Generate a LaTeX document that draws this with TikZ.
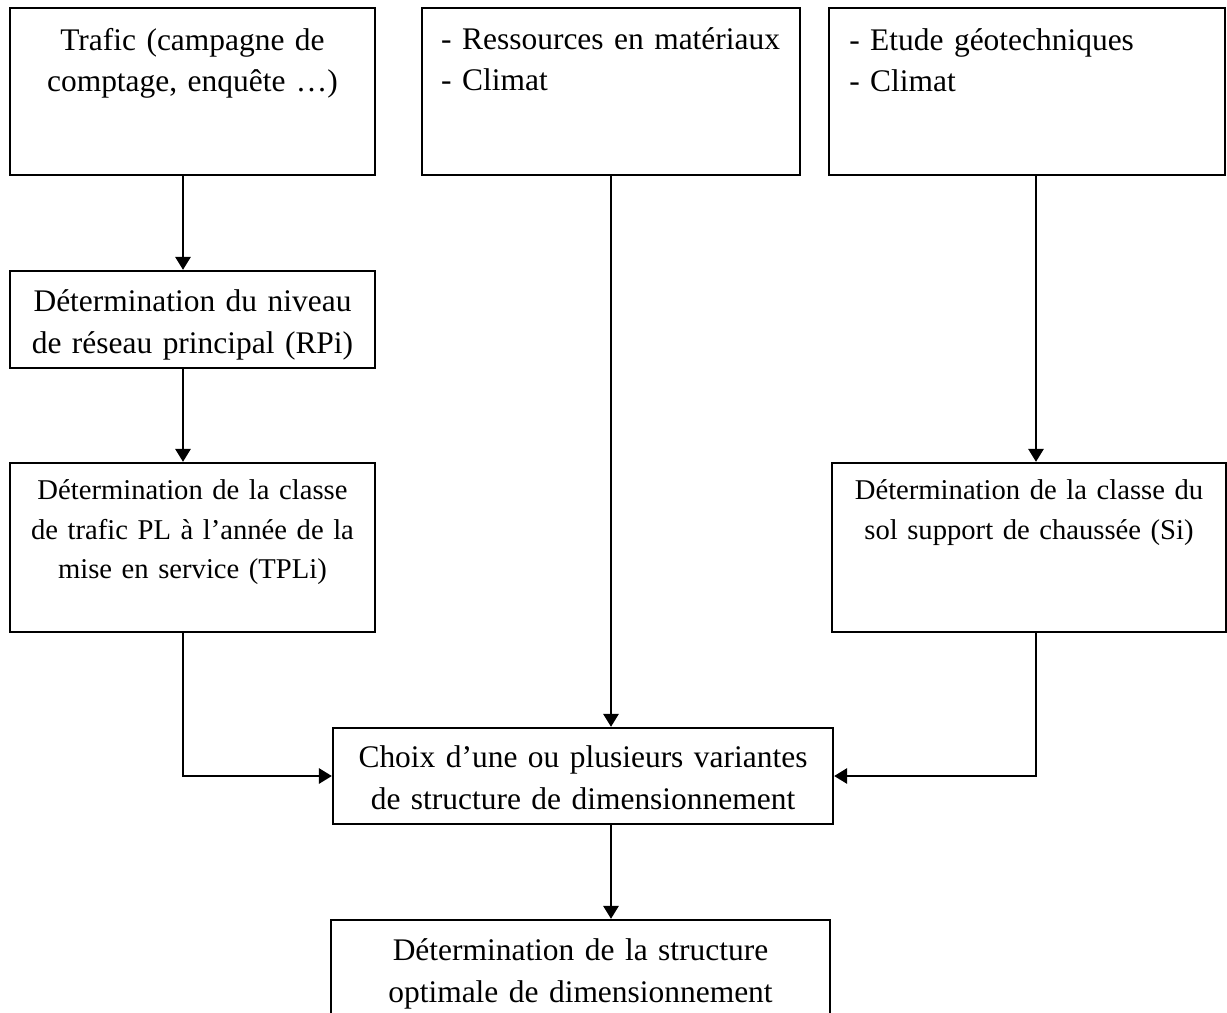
\documentclass[tikz,border=0pt]{standalone}
\usepackage{fontspec}
\setmainfont{Liberation Serif}
\usetikzlibrary{positioning,arrows.meta}
\newcommand{\grandtxt}{\fontsize{17.9}{23.6}\selectfont}
\newcommand{\petittxt}{\fontsize{16.3}{22.5}\selectfont}

\begin{document}
\begin{tikzpicture}[x=0.02cm, y=-0.02cm,
		boite/.style={draw, line width=1.3pt, inner sep=0pt},
		texte/.style={inner sep=0pt, text height=0pt, align=center, font=\grandtxt},
		fleche/.style={line width=1.6pt, -{Triangle[length=0.26cm, width=0.3cm]}}]
		\useasboundingbox (0,0) rectangle (1227,1012);
		\clip (0,0) rectangle (1227,1012);
		\node[boite, minimum width=7.3cm, minimum height=3.34cm] (trafic) at (192.5,91.5) {};
		\node[boite, minimum width=7.56cm, minimum height=3.34cm] (ressources) at (611,91.5) {};
		\node[boite, minimum width=7.92cm, minimum height=3.34cm] (etude) at (1027,91.5) {};
		\node[boite, minimum width=7.3cm, minimum height=1.94cm] (niveau) at (192.5,319.5) {};
		\node[boite, minimum width=7.3cm, minimum height=3.38cm] (classePL) at (192.5,547.5) {};
		\node[boite, minimum width=7.88cm, minimum height=3.38cm] (classeSol) at (1029,547.5) {};
		\node[boite, minimum width=10cm, minimum height=1.92cm] (choix) at (583,776) {};
		\node[boite, minimum width=9.98cm, minimum height=2.6cm] (optimale) at (580.5,985) {};
		\node[texte, text width=7.3cm, below=0.86cm of trafic.north] (traficTxt) {Trafic (campagne de\\comptage, enquête …)};
		\node[texte, text width=7cm, align=left, below right=0.84cm and 0.4cm of ressources.north west] (ressourcesTxt) {- Ressources en matériaux\\- Climat};
		\node[texte, text width=7cm, align=left, below right=0.86cm and 0.42cm of etude.north west] (etudeTxt) {- Etude géotechniques\\- Climat};
		\node[texte, text width=7.3cm, below=0.83cm of niveau.north] (niveauTxt) {Détermination du niveau\\de réseau principal (RPi)};
		\node[texte, text width=7.3cm, font=\petittxt, below=0.75cm of classePL.north] (classePLTxt) {Détermination de la classe\\de trafic PL à l’année de la\\mise en service (TPLi)};
		\node[texte, text width=7.88cm, font=\petittxt, below=0.75cm of classeSol.north] (classeSolTxt) {Détermination de la classe du\\sol support de chaussée (Si)};
		\node[texte, text width=10cm, below=0.81cm of choix.north] (choixTxt) {Choix d’une ou plusieurs variantes\\de structure de dimensionnement};
		\node[texte, text width=9.98cm, below=0.83cm of optimale.north] (optimaleTxt) {Détermination de la structure\\optimale de dimensionnement};
		\coordinate (colG) at (183,0);
		\coordinate (colD) at (1036,0);
		\draw[fleche] (trafic.south -| colG) -- (niveau.north -| colG);
		\draw[fleche] (niveau.south -| colG) -- (classePL.north -| colG);
		\draw[fleche] (etude.south -| colD) -- (classeSol.north -| colD);
		\draw[fleche] (ressources.south) -- (ressources.south |- choix.north);
		\draw[fleche] (classePL.south -| colG) |- (choix.west);
		\draw[fleche] (classeSol.south -| colD) |- (choix.east);
		\draw[fleche] (choix.south -| ressources) -- (optimale.north -| ressources);
	\end{tikzpicture}
\end{document}
